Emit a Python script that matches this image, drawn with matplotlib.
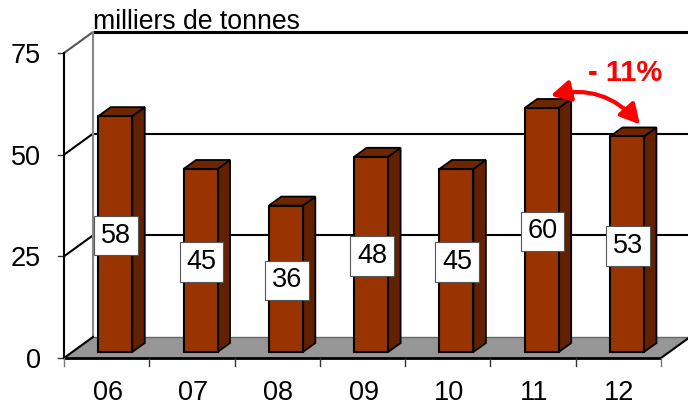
import matplotlib
matplotlib.use("Agg")
import matplotlib.pyplot as plt
from matplotlib.patches import Polygon, FancyArrowPatch

plt.rcParams['font.family'] = ['Liberation Sans', 'DejaVu Sans']

categories = ['06', '07', '08', '09', '10', '11', '12']
values = [58, 45, 36, 48, 45, 60, 53]
y_ticks = [0, 25, 50, 75]
y_label = 'milliers de tonnes'
change_label = '- 11%'

W, H = 688, 405
fig = plt.figure(figsize=(W / 100, H / 100), dpi=100)
L, R, T, B = 64, 661, 53, 358
ax = fig.add_axes([L / W, 1 - B / H, (R - L) / W, (B - T) / H])
ax.set_xlim(0, len(categories))
ax.set_ylim(0, 75)
ax.axis('off')

px = len(categories) / (R - L)
py = 75 / (B - T)
WALL_X, WALL_Y = 29 * px, 21 * py
BAR_DX, BAR_DY = 8.6 * px, 6 * py
BAR_W = 34 * px
DEPTH_X, DEPTH_Y = 12.5 * px, 9 * py
n = len(categories)


def poly(pts, fc, ec, lw, z):
    ax.add_patch(Polygon(pts, closed=True, facecolor=fc, edgecolor=ec, linewidth=lw,
                         zorder=z, clip_on=False, joinstyle='miter'))


# floor
poly([(0, 0), (WALL_X, WALL_Y), (n + WALL_X, WALL_Y), (n, 0)], '#969696', 'none', 0, 1)
ax.plot([WALL_X, n + WALL_X], [WALL_Y, WALL_Y], color='#666666', lw=1, zorder=1.5, clip_on=False)

# gridlines on the walls
for v in y_ticks[1:]:
    lw = 2.2 if v == 75 else 1.5
    ax.plot([0, WALL_X], [v, v + WALL_Y], color='#555555' if v == 75 else 'black', lw=1.5,
            zorder=1.5, clip_on=False, solid_capstyle='butt')
    ax.plot([WALL_X, n + WALL_X], [v + WALL_Y, v + WALL_Y], color='black', lw=lw,
            zorder=1.5, clip_on=False, solid_capstyle='butt')
for v in y_ticks:
    ax.plot([-6 * px, 0], [v, v], color='#333333', lw=1, zorder=2, clip_on=False)

# axis lines
ax.plot([WALL_X, WALL_X], [WALL_Y, 75 + WALL_Y], color='#888888', lw=1.5, zorder=1.5, clip_on=False)
ax.plot([0, 0], [0, 75], color='black', lw=1.5, zorder=2, clip_on=False)
ax.plot([0, WALL_X], [0, WALL_Y], color='black', lw=1.5, zorder=2, clip_on=False)
ax.plot([0, n], [0, 0], color='black', lw=2, zorder=2, clip_on=False, solid_capstyle='butt')
ax.plot([n, n + WALL_X], [0, WALL_Y], color='black', lw=1.5, zorder=2, clip_on=False)
for i in range(n + 1):
    ax.plot([i, i], [0, -8 * py], color='#777777' if i in (0, n) else '#333333', lw=1,
            zorder=2, clip_on=False)

# bars
for i, (cat, v) in enumerate(zip(categories, values)):
    x0 = i + 0.5 - BAR_W / 2 + BAR_DX
    x1 = x0 + BAR_W
    y0 = BAR_DY
    y1 = BAR_DY + v
    poly([(x1, y0), (x1 + DEPTH_X, y0 + DEPTH_Y), (x1 + DEPTH_X, y1 + DEPTH_Y), (x1, y1)],
         '#632100', 'black', 1.3, 3)
    poly([(x0, y1), (x0 + DEPTH_X, y1 + DEPTH_Y), (x1 + DEPTH_X, y1 + DEPTH_Y), (x1, y1)],
         '#6E2600', 'black', 1.3, 3)
    poly([(x0, y0), (x1, y0), (x1, y1), (x0, y1)], '#993300', 'black', 1.5, 3.5)
    ax.text((x0 + x1) / 2 + 0.8 * px, y0 + v / 2 + 1.5 * py, str(v), fontsize=19.5, ha='center',
            va='center_baseline', zorder=5, color='black',
            bbox=dict(boxstyle='square,pad=0.25', facecolor='white', edgecolor='#555555', linewidth=0.8))
    ax.text(i + 0.5 + 1 * px, -32 * py, cat, fontsize=19.5, ha='center', va='center_baseline', clip_on=False)

for v in y_ticks:
    ax.text(-23 * px, v, str(v), fontsize=19.5, ha='right', va='center_baseline', clip_on=False)

ax.text(WALL_X, 75 + WALL_Y + 3 * py, y_label, fontsize=19.2, ha='left', va='baseline', clip_on=False)

# change annotation
a, b = 5, 6
start = (a + 0.5 + BAR_DX + 9 * px, values[a] + BAR_DY + DEPTH_Y + 3.5 * py)
end = (b + 0.5 + BAR_DX + 13 * px, values[b] + BAR_DY + DEPTH_Y + 3 * py)
ax.add_patch(FancyArrowPatch(start, end, connectionstyle='arc3,rad=-0.3',
                             arrowstyle='<|-|>,head_length=0.65,head_width=0.35',
                             mutation_scale=18, color='#FF0000', linewidth=3, zorder=6,
                             clip_on=False, shrinkA=0, shrinkB=0))
ax.text(a + 0.5 + BAR_DX + 83 * px, values[a] + 10, change_label, fontsize=21, fontweight='bold',
        color='#FF0000', ha='center', va='center', clip_on=False)

fig.savefig('out.png', dpi=100)
